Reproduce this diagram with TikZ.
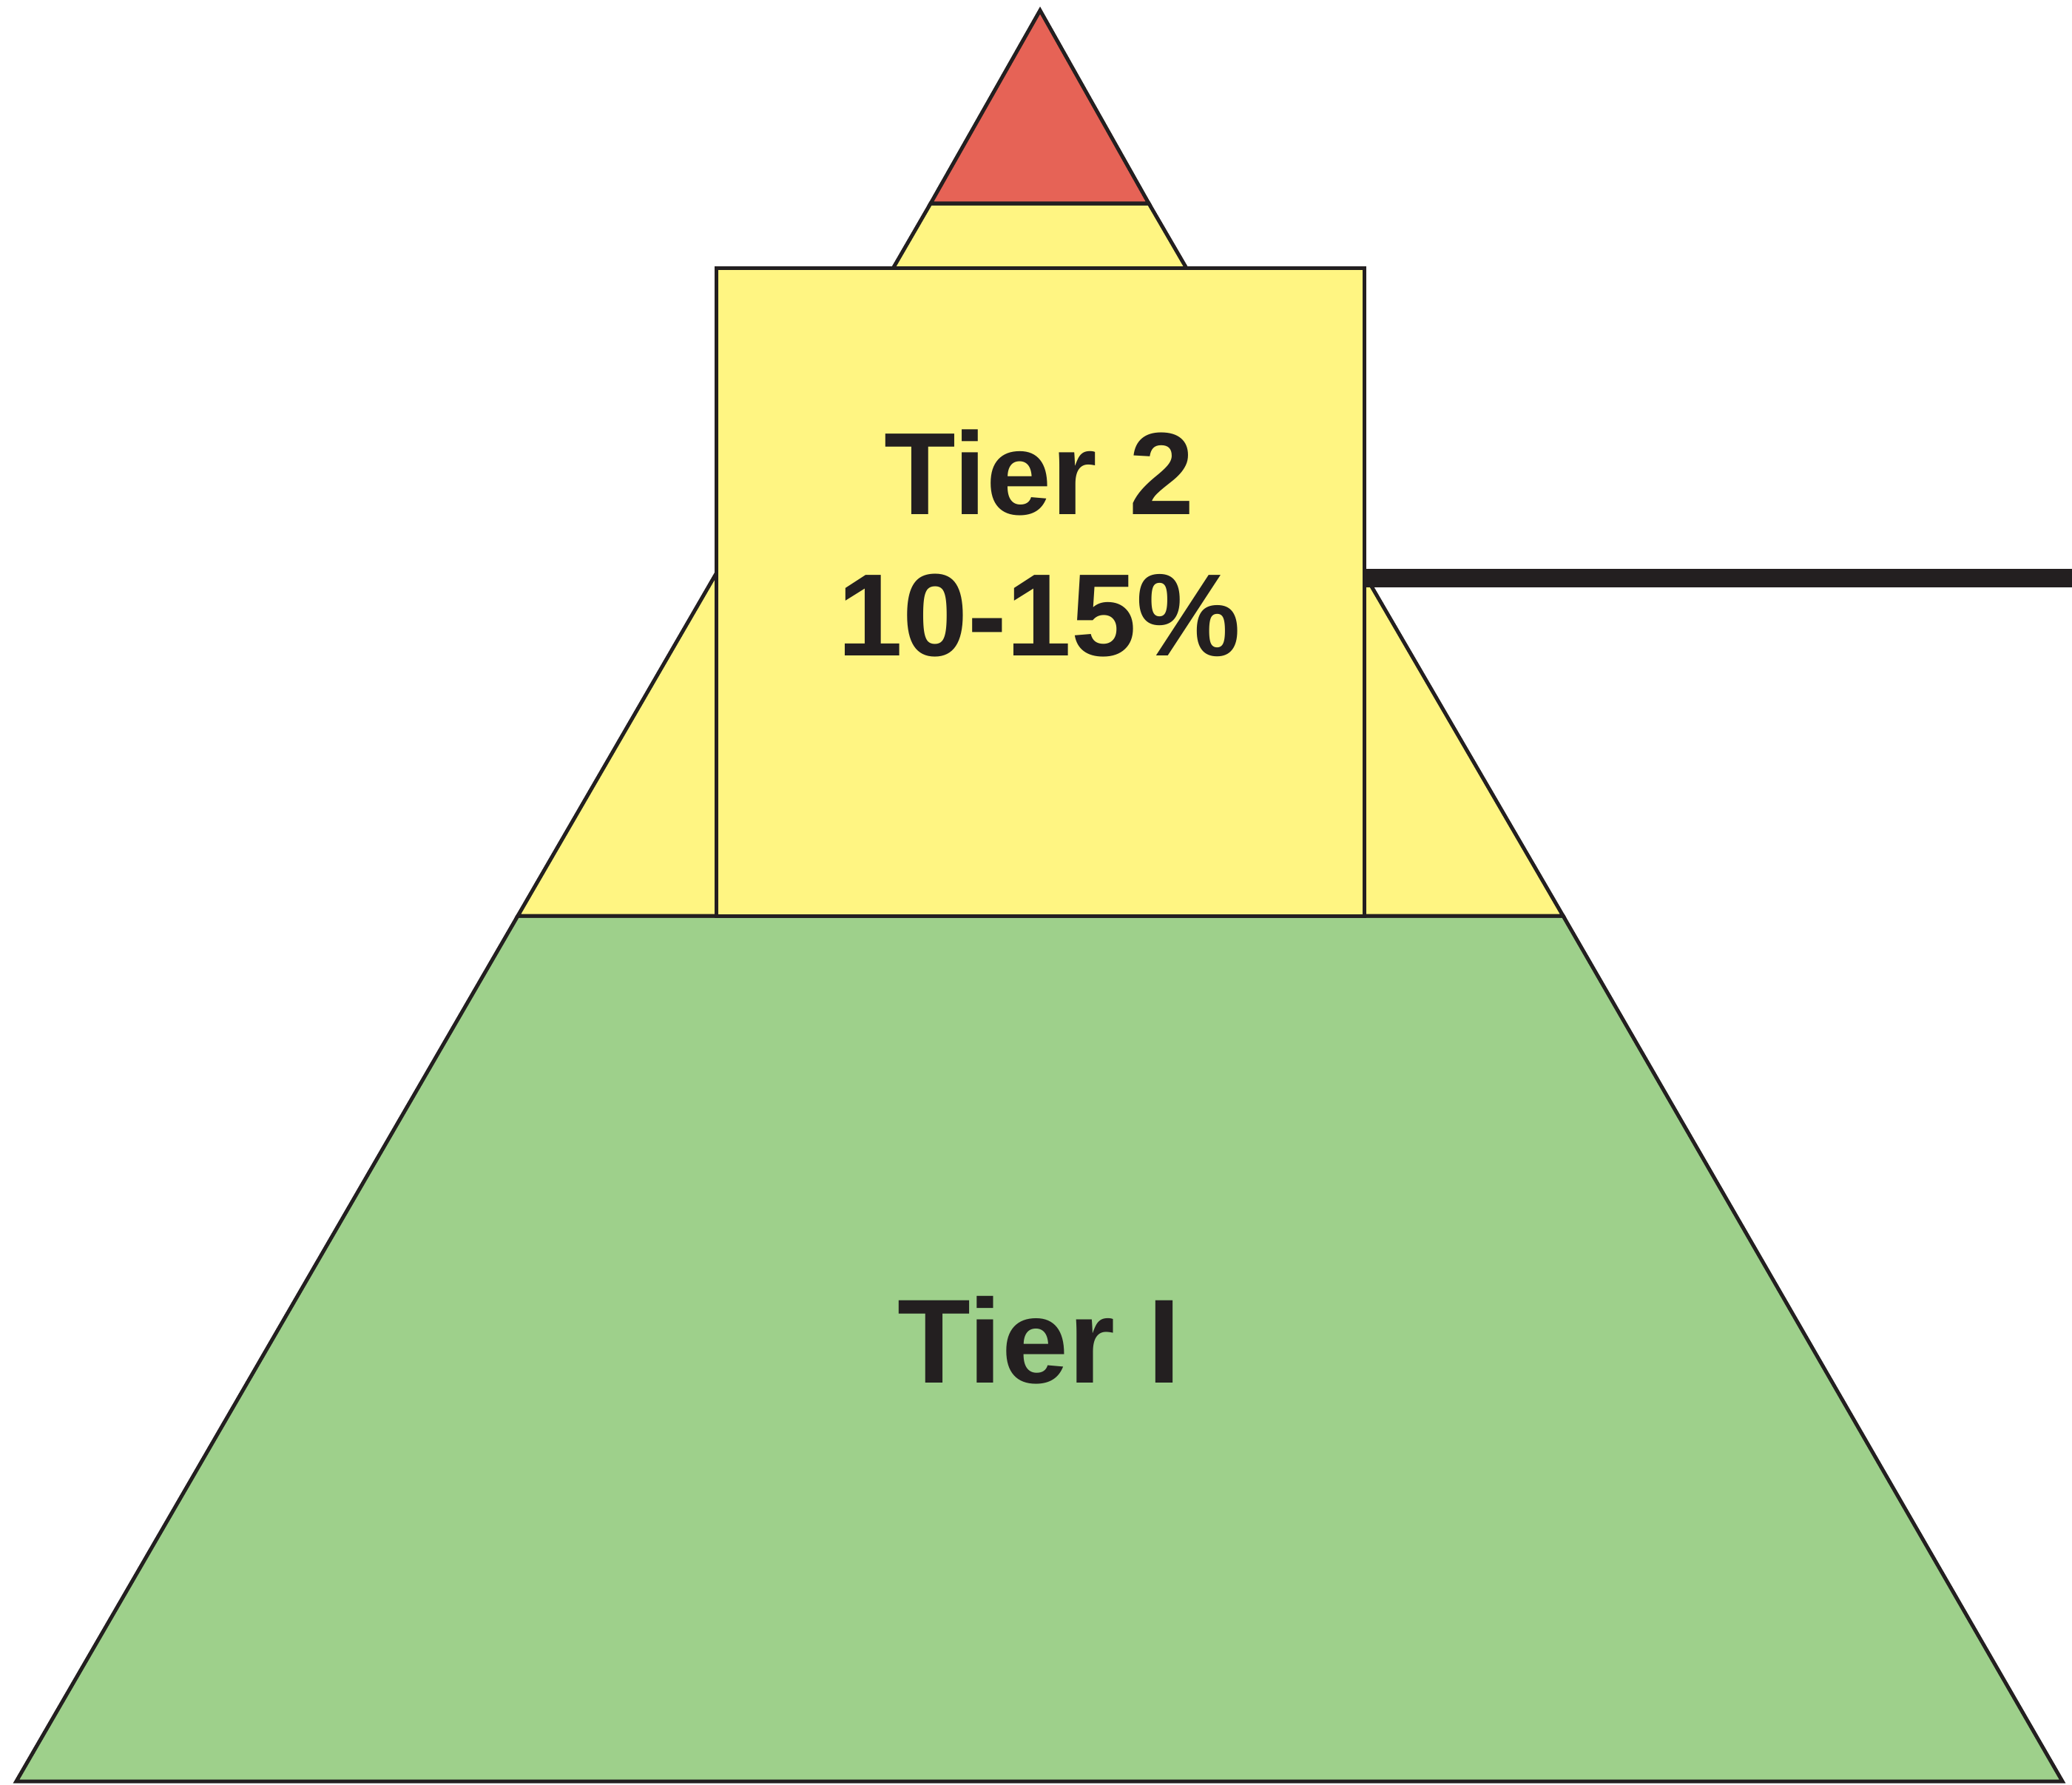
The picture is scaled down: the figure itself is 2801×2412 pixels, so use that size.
\documentclass[tikz,border=0pt]{standalone}
\usepackage{fontspec}
\setmainfont{Liberation Sans}
\definecolor{tierred}{RGB}{230,99,86}
\definecolor{tieryellow}{RGB}{255,245,130}
\definecolor{tiergreen}{RGB}{158,208,139}
\definecolor{ink}{RGB}{35,31,32}
\begin{document}
\begin{tikzpicture}[x=0.01cm,y=-0.01cm,line width=0.05cm,line join=miter,
  band/.style={draw=ink},
  label/.style={text=ink,font=\fontsize{45}{54}\selectfont\bfseries,inner sep=0pt,anchor=base}]
\useasboundingbox (0,0) rectangle (2801,2412);
% pyramid bands, bottom up
\draw[band,fill=tiergreen] (22,2408) -- (2788,2408) -- (2113,1238) -- (700,1238) -- cycle;
\draw[band,fill=tieryellow] (700,1238) -- (2113,1238) -- (1553,275) -- (1258,275) -- cycle;
\draw[band,fill=tierred] (1258,275) -- (1553,275) -- (1406,14) -- cycle;
% box over the middle band
\draw[band,fill=tieryellow] (968,362) rectangle (1844,1238);
\coordinate (boxedge) at (1844,781);
\coordinate (rightend) at (2801,781);
\draw[ink,line width=0.25cm,line cap=butt] (boxedge) -- (rightend);
\node[label] (tiertwo) at (1405,695) {Tier 2};
\node[label] (share) at (1405,886) {10-15\%};
\node[label,font=\fontsize{46}{55}\selectfont\bfseries] (tierone) at (1405,1869) {Tier I};
\end{tikzpicture}
\end{document}
